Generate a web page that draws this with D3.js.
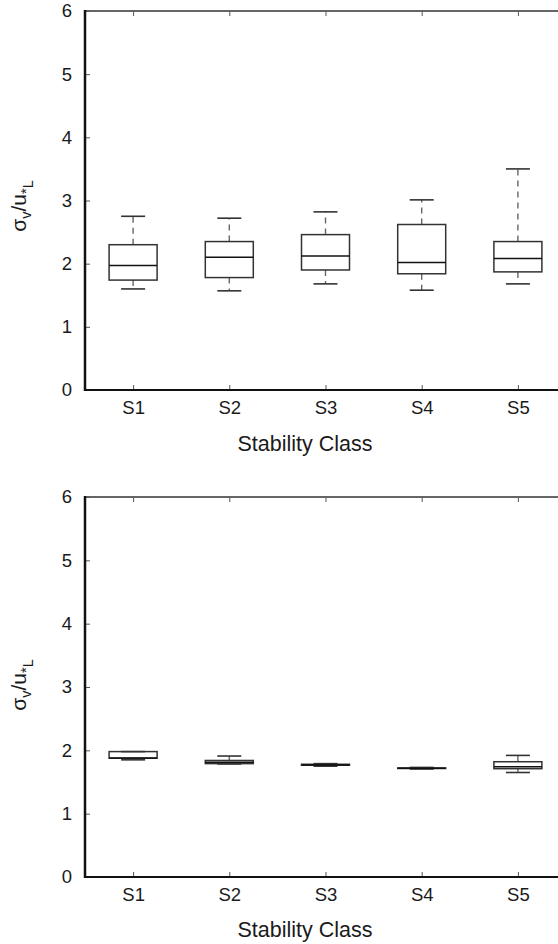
<!DOCTYPE html>
<html>
<head>
<meta charset="utf-8">
<script src="https://cdn.jsdelivr.net/npm/d3@7"></script>
<style>
  html, body { margin: 0; padding: 0; background: #fff; }
  svg { display: block; }
  text { font-family: "Liberation Sans", Arial, Helvetica, sans-serif; fill: #1a1a1a; }
</style>
</head>
<body>
<svg id="fig" width="558" height="944"></svg>
<script>
// Stability classes along the x axis
const categories = ["S1", "S2", "S3", "S4", "S5"];
const yTicks = [0, 1, 2, 3, 4, 5, 6];

// Upper panel: five-number summaries per class
const topLow    = [1.60, 1.57, 1.68, 1.58, 1.68];
const topQ1     = [1.74, 1.78, 1.90, 1.84, 1.87];
const topMedian = [1.97, 2.10, 2.12, 2.02, 2.08];
const topQ3     = [2.30, 2.35, 2.46, 2.62, 2.35];
const topHigh   = [2.75, 2.72, 2.82, 3.01, 3.50];

// Lower panel: five-number summaries per class
const botLow    = [1.85, 1.785, 1.75, 1.705, 1.65];
const botQ1     = [1.875, 1.79, 1.765, 1.713, 1.71];
const botMedian = [1.88, 1.81, 1.77, 1.718, 1.74];
const botQ3     = [1.98, 1.84, 1.78, 1.722, 1.82];
const botHigh   = [1.98, 1.91, 1.79, 1.73, 1.92];

const svg = d3.select("#fig");
const FONT = "Liberation Sans, Arial, Helvetica, sans-serif";

function panel(cfg) {
  const { top, bottom, left, right, low, q1, med, q3, high, titleY, yLabelY } = cfg;
  const g = svg.append("g");

  const x = d3.scalePoint().domain(categories).range([left, right]).padding(0.5);
  const y = d3.scaleLinear().domain([0, 6]).range([bottom, top]);

  const rows = categories.map((c, i) => ({ c, lo: low[i], q1: q1[i], md: med[i], q3: q3[i], hi: high[i] }));

  // frame: thin top/right, heavier left/bottom
  g.append("line").attr("x1", left).attr("x2", right).attr("y1", top).attr("y2", top)
    .attr("stroke", "#333").attr("stroke-width", 1.3);
  g.append("line").attr("x1", right).attr("x2", right).attr("y1", top).attr("y2", bottom)
    .attr("stroke", "#333").attr("stroke-width", 1.3);

  // inward ticks along the top edge
  const topAxis = g.append("g").attr("transform", `translate(0,${top})`)
    .call(d3.axisTop(x).tickSize(-5).tickFormat(""));
  topAxis.select(".domain").remove();
  topAxis.selectAll(".tick line").attr("stroke", "#555");

  // bottom axis with class labels
  const xAxis = g.append("g").attr("transform", `translate(0,${bottom})`)
    .call(d3.axisBottom(x).tickSize(-5).tickPadding(11));
  xAxis.select(".domain").remove();
  xAxis.selectAll(".tick line").attr("stroke", "#555");
  xAxis.selectAll(".tick text").attr("font-size", 18.5).attr("fill", "#1a1a1a")
    .attr("font-family", FONT);

  // left axis
  const yAxis = g.append("g").attr("transform", `translate(${left},0)`)
    .call(d3.axisLeft(y).tickValues(yTicks).tickSize(-5).tickPadding(13).tickFormat(d3.format("d")));
  yAxis.select(".domain").remove();
  yAxis.selectAll(".tick line").attr("stroke", "#555");
  yAxis.selectAll(".tick text").attr("font-size", 18.5).attr("fill", "#1a1a1a")
    .attr("font-family", FONT);

  g.append("line").attr("x1", left).attr("x2", right).attr("y1", bottom).attr("y2", bottom)
    .attr("stroke", "#111").attr("stroke-width", 2);
  g.append("line").attr("x1", left).attr("x2", left).attr("y1", top - 1).attr("y2", bottom + 1)
    .attr("stroke", "#111").attr("stroke-width", 2.5);

  const boxHalf = 24, capHalf = 12;
  const b = g.selectAll("g.box").data(rows).join("g").attr("class", "box");

  // dashed whiskers from box edge out to the adjacent values
  b.append("line")
    .attr("x1", d => x(d.c)).attr("x2", d => x(d.c))
    .attr("y1", d => y(d.q3)).attr("y2", d => y(d.hi))
    .attr("stroke", "#666").attr("stroke-width", 1.4).attr("stroke-dasharray", "6,5");
  b.append("line")
    .attr("x1", d => x(d.c)).attr("x2", d => x(d.c))
    .attr("y1", d => y(d.q1)).attr("y2", d => y(d.lo))
    .attr("stroke", "#666").attr("stroke-width", 1.4).attr("stroke-dasharray", "6,5");

  // whisker caps
  b.append("line")
    .attr("x1", d => x(d.c) - capHalf).attr("x2", d => x(d.c) + capHalf)
    .attr("y1", d => y(d.hi)).attr("y2", d => y(d.hi))
    .attr("stroke", "#333").attr("stroke-width", 1.6);
  b.append("line")
    .attr("x1", d => x(d.c) - capHalf).attr("x2", d => x(d.c) + capHalf)
    .attr("y1", d => y(d.lo)).attr("y2", d => y(d.lo))
    .attr("stroke", "#333").attr("stroke-width", 1.6);

  // interquartile boxes
  b.append("rect")
    .attr("x", d => x(d.c) - boxHalf).attr("width", boxHalf * 2)
    .attr("y", d => y(d.q3)).attr("height", d => y(d.q1) - y(d.q3))
    .attr("fill", "none").attr("stroke", "#333").attr("stroke-width", 1.5);

  // medians
  b.append("line")
    .attr("x1", d => x(d.c) - boxHalf).attr("x2", d => x(d.c) + boxHalf)
    .attr("y1", d => y(d.md)).attr("y2", d => y(d.md))
    .attr("stroke", "#111").attr("stroke-width", 1.5);

  // axis titles
  g.append("text").attr("x", 305).attr("y", titleY).attr("text-anchor", "middle")
    .attr("font-size", 21.5).text("Stability Class");

  const yl = g.append("text")
    .attr("transform", `translate(26,${yLabelY}) rotate(-90)`)
    .attr("text-anchor", "middle").attr("font-size", 21);
  yl.append("tspan").text("σ");
  yl.append("tspan").attr("font-size", 14.5).attr("dy", 5).text("v");
  yl.append("tspan").attr("dy", -5).text("/u");
  yl.append("tspan").attr("font-size", 14.5).attr("dy", 5).text("*");
  yl.append("tspan").attr("font-size", 14.5).attr("dy", 2).text("L");
}

panel({ top: 11, bottom: 390, left: 85, right: 566,
  low: topLow, q1: topQ1, med: topMedian, q3: topQ3, high: topHigh,
  titleY: 451, yLabelY: 206 });

panel({ top: 497, bottom: 877, left: 85, right: 566,
  low: botLow, q1: botQ1, med: botMedian, q3: botQ3, high: botHigh,
  titleY: 937, yLabelY: 685 });
</script>
</body>
</html>
